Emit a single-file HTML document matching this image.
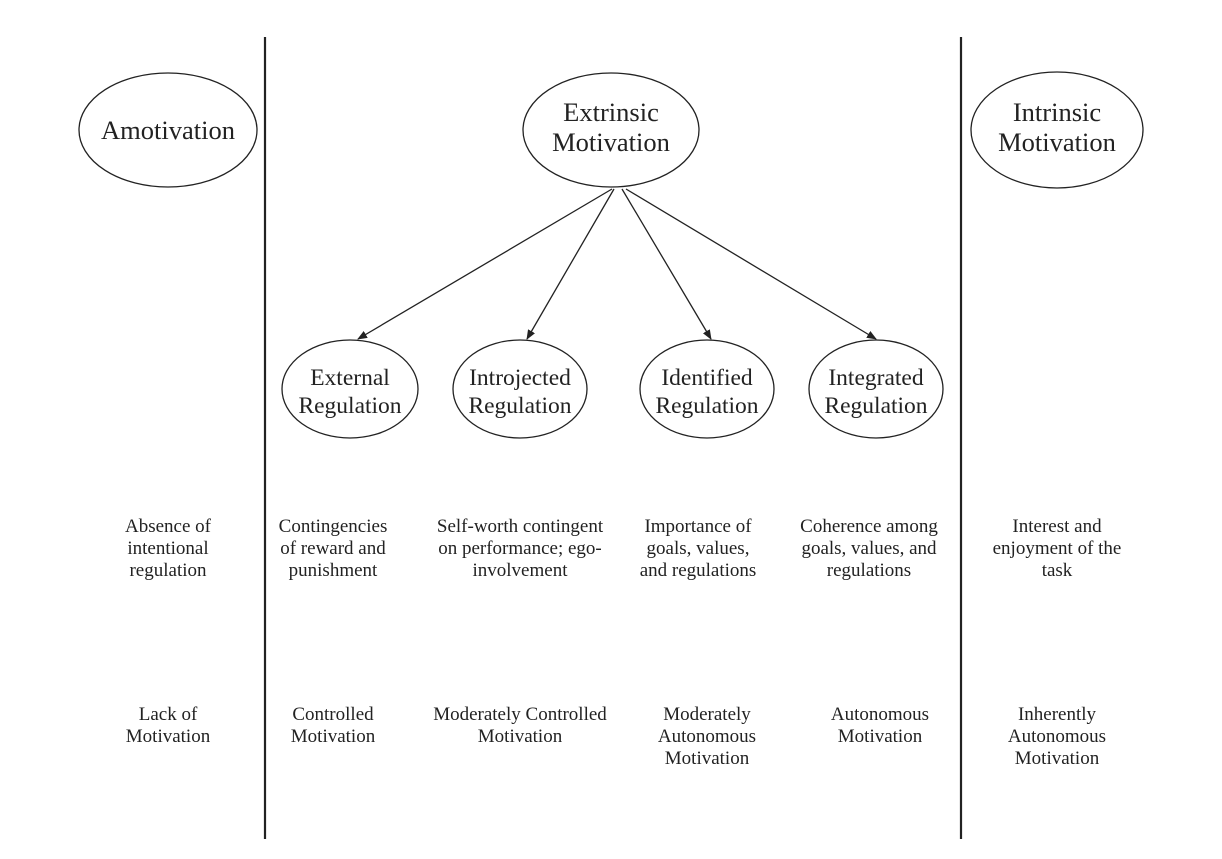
<!DOCTYPE html>
<html><head><meta charset="utf-8"><style>
body{margin:0;background:#fff;}
svg{display:block;}
text{font-family:"Liberation Serif",serif;fill:#222;}
.L{font-size:26.5px;}
.b{font-size:23.5px;}
.s{font-size:19px;}
</style></head><body>
<svg width="1222" height="859" viewBox="0 0 1222 859">
<defs><marker id="a" markerWidth="10" markerHeight="10" refX="9" refY="5" orient="auto" markerUnits="userSpaceOnUse"><path d="M0,1 L10,5 L0,9 Z" fill="#222"/></marker></defs>
<g stroke="#222" fill="none" stroke-width="1.3">
<line x1="265" y1="37" x2="265" y2="839" stroke-width="2.2"/>
<line x1="961" y1="37" x2="961" y2="839" stroke-width="2.2"/>
<ellipse cx="168" cy="130" rx="89" ry="57"/>
<ellipse cx="611" cy="130" rx="88" ry="57"/>
<ellipse cx="1057" cy="130" rx="86" ry="58"/>
<ellipse cx="350" cy="389" rx="68" ry="49"/>
<ellipse cx="520" cy="389" rx="67" ry="49"/>
<ellipse cx="707" cy="389" rx="67" ry="49"/>
<ellipse cx="876" cy="389" rx="67" ry="49"/>
<line x1="612" y1="189" x2="358" y2="339" marker-end="url(#a)"/>
<line x1="614" y1="189" x2="527" y2="339" marker-end="url(#a)"/>
<line x1="622" y1="189" x2="711" y2="339" marker-end="url(#a)"/>
<line x1="626" y1="189" x2="876" y2="339" marker-end="url(#a)"/>
</g>
<g text-anchor="middle">
<text class="L" x="168" y="139">Amotivation</text>
<text class="L" x="611" y="121">Extrinsic</text><text class="L" x="611" y="151">Motivation</text>
<text class="L" x="1057" y="121">Intrinsic</text><text class="L" x="1057" y="151">Motivation</text>
<text class="b" x="350" y="385">External</text><text class="b" x="350" y="413">Regulation</text>
<text class="b" x="520" y="385">Introjected</text><text class="b" x="520" y="413">Regulation</text>
<text class="b" x="707" y="385">Identified</text><text class="b" x="707" y="413">Regulation</text>
<text class="b" x="876" y="385">Integrated</text><text class="b" x="876" y="413">Regulation</text>
<g class="s">
<text x="168" y="532">Absence of</text><text x="168" y="554">intentional</text><text x="168" y="576">regulation</text>
<text x="333" y="532">Contingencies</text><text x="333" y="554">of reward and</text><text x="333" y="576">punishment</text>
<text x="520" y="532">Self-worth contingent</text><text x="520" y="554">on performance; ego-</text><text x="520" y="576">involvement</text>
<text x="698" y="532">Importance of</text><text x="698" y="554">goals, values,</text><text x="698" y="576">and regulations</text>
<text x="869" y="532">Coherence among</text><text x="869" y="554">goals, values, and</text><text x="869" y="576">regulations</text>
<text x="1057" y="532">Interest and</text><text x="1057" y="554">enjoyment of the</text><text x="1057" y="576">task</text>
<text x="168" y="720">Lack of</text><text x="168" y="742">Motivation</text>
<text x="333" y="720">Controlled</text><text x="333" y="742">Motivation</text>
<text x="520" y="720">Moderately Controlled</text><text x="520" y="742">Motivation</text>
<text x="707" y="720">Moderately</text><text x="707" y="742">Autonomous</text><text x="707" y="764">Motivation</text>
<text x="880" y="720">Autonomous</text><text x="880" y="742">Motivation</text>
<text x="1057" y="720">Inherently</text><text x="1057" y="742">Autonomous</text><text x="1057" y="764">Motivation</text>
</g></g>
</svg>
</body></html>
